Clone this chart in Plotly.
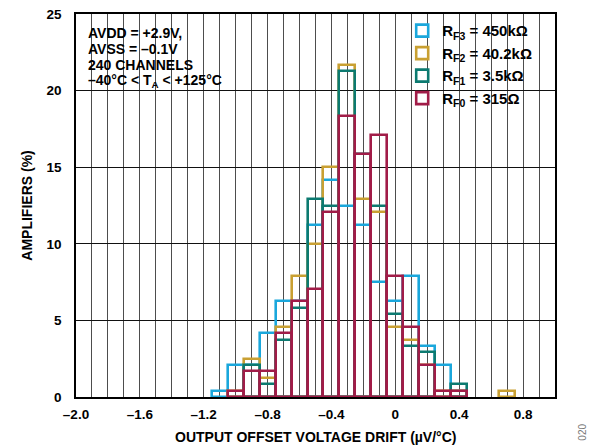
import plotly.graph_objects as go

# Histogram bins (µV/°C), 0.1 wide
bin_centers = [-1.1, -1.0, -0.9, -0.8, -0.7, -0.6, -0.5, -0.4, -0.3, -0.2,
               -0.1, 0.0, 0.1, 0.2, 0.3, 0.4, 0.5, 0.6, 0.7]

# Percentage of amplifiers per bin for each feedback resistor
rf3_450k = [0.42, 2.08, 2.08, 4.17, 6.25, 6.25, 11.25, 14.17, 12.50, 11.25,
            7.50, 6.25, 7.92, 3.33, 2.08, 0.42, None, None, None]
rf2_40k2 = [None, 0.42, 2.50, 1.25, 4.58, 7.92, 10.00, 15.00, 21.67, 12.92,
            12.08, 4.58, 3.75, 2.08, 0.42, 0.42, None, None, 0.42]
rf1_3k5 = [None, None, 2.08, 0.83, 3.75, 5.83, 12.92, 12.50, 21.25, 15.83,
           12.50, 5.42, 3.33, 2.92, None, 0.83, None, None, None]
rf0_315 = [None, 0.42, 1.67, 1.67, 4.17, 6.25, 7.08, 12.08, 18.33, 15.83,
           17.08, 7.92, 4.58, 2.08, 0.42, 0.42, None, None, None]

series = [
    ("R<sub>F3</sub> = 450kΩ", rf3_450k, "#1aa7dc"),
    ("R<sub>F2</sub> = 40.2kΩ", rf2_40k2, "#c9a032"),
    ("R<sub>F1</sub> = 3.5kΩ", rf1_3k5, "#0c7a70"),
    ("R<sub>F0</sub> = 315Ω", rf0_315, "#a11c48"),
]

x_tick_vals = [-2.0, -1.6, -1.2, -0.8, -0.4, 0.0, 0.4, 0.8]
x_tick_text = ["–2.0", "–1.6", "–1.2", "–0.8", "–0.4", "0", "0.4", "0.8"]
y_tick_vals = [0, 5, 10, 15, 20, 25]

conditions = ["AVDD = +2.9V,", "AVSS = –0.1V", "240 CHANNELS",
              "–40°C < T<sub>A</sub> < +125°C"]

FONT = "Liberation Sans, Arial, sans-serif"

fig = go.Figure()
for name, vals, color in series:
    fig.add_trace(go.Bar(
        x=bin_centers, y=vals, width=0.1, name=name,
        marker=dict(color="rgba(0,0,0,0)", line=dict(color=color, width=2.6)),
    ))

fig.update_layout(
    width=589, height=448,
    margin=dict(l=76, r=34, t=14, b=51, autoexpand=False),
    paper_bgcolor="white", plot_bgcolor="white",
    barmode="overlay", bargap=0,
    font=dict(family=FONT, size=13.5, color="black", weight="bold"),
    showlegend=True,
    legend=dict(
        x=0.681, y=0.999, xanchor="left", yanchor="top",
        bgcolor="rgba(0,0,0,0)", borderwidth=0,
        font=dict(family=FONT, size=15, color="black", weight="bold"),
        itemwidth=30, tracegroupgap=0,
    ),
)

fig.update_xaxes(
    range=[-2.0, 1.0], tickvals=x_tick_vals, ticktext=x_tick_text,
    showgrid=True, gridcolor="#4d4d4d", gridwidth=1,
    minor=dict(dtick=0.1, tick0=0, showgrid=True, gridcolor="#4d4d4d", gridwidth=1),
    showline=True, linecolor="black", linewidth=1.5, mirror=True,
    ticks="", zeroline=False, ticklabelstandoff=4, automargin=False,
)
fig.update_yaxes(
    range=[0, 25], tickvals=y_tick_vals,
    showgrid=True, gridcolor="#111111", gridwidth=1,
    showline=True, linecolor="black", linewidth=1.5, mirror=True,
    ticks="", zeroline=False, ticklabelstandoff=10, automargin=False,
)

# White panels behind the conditions text and the legend
fig.add_shape(type="rect", xref="paper", yref="paper",
              x0=0.003, x1=0.353, y0=0.787, y1=0.992,
              fillcolor="white", line=dict(width=0), layer="between")
fig.add_shape(type="rect", xref="paper", yref="paper",
              x0=0.706, x1=0.974, y0=0.757, y1=0.992,
              fillcolor="white", line=dict(width=0), layer="between")

# Test conditions
line_y = [0.950, 0.909, 0.867, 0.825]
for txt, yy in zip(conditions, line_y):
    fig.add_annotation(text=txt, xref="paper", yref="paper", x=0.021, y=yy,
                       xanchor="left", yanchor="middle", showarrow=False,
                       font=dict(family=FONT, size=14, color="black", weight="bold"))

# Axis titles
fig.add_annotation(text="OUTPUT OFFSET VOLTAGE DRIFT (µV/°C)", xref="paper", yref="paper",
                   x=0.5, y=-0.104, xanchor="center", yanchor="middle", showarrow=False,
                   font=dict(family=FONT, size=14, color="black", weight="bold"))
fig.add_annotation(text="AMPLIFIERS (%)", xref="paper", yref="paper",
                   x=-0.104, y=0.5, xanchor="center", yanchor="middle", showarrow=False,
                   textangle=-90,
                   font=dict(family=FONT, size=14, color="black", weight="bold"))

# Figure number
fig.add_annotation(text="020", xref="paper", yref="paper",
                   x=1.058, y=-0.091, xanchor="center", yanchor="middle", showarrow=False,
                   textangle=-90,
                   font=dict(family=FONT, size=10, color="#777777", weight="normal"))

fig.write_html("out.html")
